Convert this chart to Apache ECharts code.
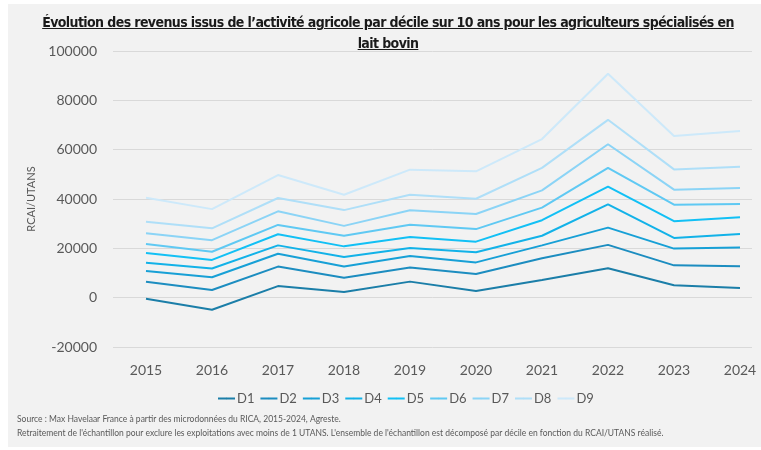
<!DOCTYPE html>
<html>
<head>
<meta charset="utf-8">
<script src="https://cdn.jsdelivr.net/npm/echarts@6/dist/echarts.min.js"></script>
<style>
  html, body { margin: 0; padding: 0; background: #ffffff; }
  .wrap { position: absolute; left: 8px; top: 4px; width: 753px; height: 443px; background: #f2f2f2; }
  .chart-wrap { position: absolute; left: 0; top: 0; width: 753px; height: 443px; }
  .title {
    position: absolute; left: 0; top: 8px; width: 760px; text-align: center;
    font-family: "Liberation Sans Narrow", "DejaVu Sans Condensed", sans-serif;
    font-weight: bold; font-size: 14px; line-height: 21px; color: #1a1a1a;
    text-decoration: underline; letter-spacing: -0.6px; z-index: 2;
  }
</style>
</head>
<body>
<div class="wrap">
  <div id="chart" class="chart-wrap"></div>
  <div class="title">Évolution des revenus issus de l’activité agricole par décile sur 10 ans pour les agriculteurs spécialisés en<br>lait bovin</div>
</div>
<script>
const years = ["2015", "2016", "2017", "2018", "2019", "2020", "2021", "2022", "2023", "2024"];
const deciles = ["D1", "D2", "D3", "D4", "D5", "D6", "D7", "D8", "D9"];
const d1 = [-400, -4900, 4700, 2300, 6500, 2700, 7200, 11900, 5000, 3900];
const d2 = [6500, 3100, 12600, 8100, 12200, 9600, 16000, 21400, 13100, 12700];
const d3 = [10800, 8300, 17800, 12600, 16900, 14300, 21200, 28400, 19900, 20300];
const d4 = [14200, 11800, 21200, 16500, 20100, 18400, 25100, 37800, 24200, 25800];
const d5 = [18100, 15300, 25700, 20800, 24600, 22700, 31400, 45000, 31000, 32600];
const d6 = [21800, 18600, 29500, 25100, 29600, 27800, 36500, 52600, 37700, 38000];
const d7 = [26100, 23300, 35000, 29100, 35400, 33900, 43500, 62200, 43800, 44500];
const d8 = [30800, 28100, 40400, 35500, 41700, 40100, 52600, 72100, 52000, 53100];
const d9 = [40500, 35900, 49700, 41700, 51900, 51200, 64300, 90800, 65500, 67600];
const decileValues = [d1, d2, d3, d4, d5, d6, d7, d8, d9];
const lineColors = ["#1b7ea8", "#1c8dc0", "#17a0d6", "#12b2e8", "#12c0f5", "#5fc9f3", "#8bd4f6", "#afdff8", "#cde9fa"];

const chart = echarts.init(document.getElementById("chart"));
const labelFont = "Lato, sans-serif";
const series = deciles.map(function (name, i) {
  return {
    name: name,
    type: "line",
    xAxisIndex: 1,
    yAxisIndex: 1,
    symbol: "none",
    smooth: false,
    lineStyle: { width: 2, color: lineColors[i] },
    itemStyle: { color: lineColors[i] },
    data: decileValues[i]
  };
});

const option = {
  animation: false,
  backgroundColor: "#f2f2f2",
  grid: [
    { left: 105, right: 9, top: 47, height: 296 },
    { left: 138, right: 21, top: 47, height: 296 }
  ],
  xAxis: [
    { gridIndex: 0, type: "category", data: years, show: false },
    {
      gridIndex: 1,
      type: "category",
      boundaryGap: false,
      data: years,
      axisLine: { show: false },
      axisTick: { show: false },
      splitLine: { show: false },
      axisLabel: { color: "#595959", fontSize: 14, fontFamily: labelFont, margin: 16 }
    }
  ],
  yAxis: [
    {
      gridIndex: 0,
      type: "value",
      min: -20000,
      max: 100000,
      interval: 20000,
      name: "RCAI/UTANS",
      nameLocation: "middle",
      nameRotate: 90,
      nameGap: 75,
      nameTextStyle: { color: "#595959", fontSize: 11, fontFamily: labelFont },
      axisLine: { show: false },
      axisTick: { show: false },
      splitLine: { show: true, lineStyle: { color: "#d9d9d9", width: 1 } },
      axisLabel: {
        color: "#595959",
        fontSize: 14,
        fontFamily: labelFont,
        margin: 16,
        formatter: function (v) { return String(v); }
      }
    },
    {
      gridIndex: 1,
      type: "value",
      min: -20000,
      max: 100000,
      interval: 20000,
      show: false,
      splitLine: { show: false }
    }
  ],
  legend: {
    data: deciles,
    left: 204,
    top: 383,
    itemWidth: 17,
    itemHeight: 2,
    itemGap: 5,
    textStyle: { color: "#595959", fontSize: 13, fontFamily: labelFont, padding: [0, 0, 0, -3] }
  },
  graphic: [
    {
      type: "text",
      left: 9,
      top: 411,
      style: {
        text: "Source : Max Havelaar France à partir des microdonnées du RICA, 2015-2024, Agreste.",
        fill: "#595959",
        font: "8.5px Lato, sans-serif"
      }
    },
    {
      type: "text",
      left: 9,
      top: 425,
      style: {
        text: "Retraitement de l'échantillon pour exclure les exploitations avec moins de 1 UTANS. L'ensemble de l'échantillon est décomposé par décile en fonction du RCAI/UTANS réalisé.",
        fill: "#595959",
        font: "8.5px Lato, sans-serif"
      }
    }
  ],
  series: series
};
chart.setOption(option);
</script>
</body>
</html>
